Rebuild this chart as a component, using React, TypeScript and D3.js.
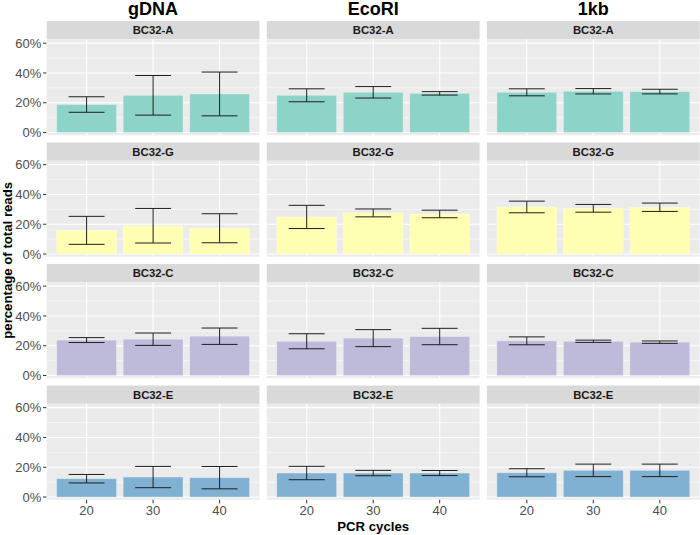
import * as d3 from "d3";

const cycles = ["20", "30", "40"];
const methods = ["gDNA", "EcoRI", "1kb"];
const barcodes = ["BC32-A", "BC32-G", "BC32-C", "BC32-E"];
const fills = ["#8DD3C7", "#FFFFB3", "#BEBADA", "#80B1D3"];
const yTicks = [0, 0.2, 0.4, 0.6];
const yMinor = [0.1, 0.3, 0.5];

// mean % of reads per method (rows) x cycle (cols)
const meanA = [[18.8, 25.0, 25.9], [25.0, 27.0, 26.3], [27.0, 27.7, 27.5]];
const errA = [[5.2, 13.3, 14.7], [4.35, 3.85, 1.15], [2.35, 1.8, 1.55]];
const meanG = [[15.9, 19.0, 17.3], [24.9, 27.6, 26.9], [31.6, 30.7, 31.4]];
const errG = [[9.4, 11.6, 9.75], [7.8, 2.65, 2.55], [3.9, 2.6, 2.8]];
const meanC = [[23.8, 24.4, 26.4], [23.0, 25.1, 26.2], [23.3, 23.0, 22.4]];
const errC = [[1.65, 4.15, 5.5], [5.05, 5.7, 5.5], [2.65, 0.75, 0.8]];
const meanE = [[12.3, 13.4, 13.0], [16.1, 16.1, 16.1], [16.3, 17.9, 17.9]];
const errE = [[2.85, 7.15, 7.5], [4.5, 1.8, 1.7], [2.7, 4.2, 4.2]];

const means = [meanA, meanG, meanC, meanE];
const errs = [errA, errG, errC, errE];

const W = 700;
const H = 535;
const left = 46.7;
const panelW = 212.8;
const gap = 7.3;
const top0 = 21;
const stripH = 18.3;
const panelH = 95.9;
const rowPitch = 121.5;
const font = "'Liberation Sans', Arial, sans-serif";

export default function App() {
  const x = d3
    .scalePoint<string>()
    .domain(cycles)
    .range([0, panelW])
    .padding(0.6);
  const unit = x.step();
  const y = d3.scaleLinear().domain([-0.018, 0.626]).range([panelH, 0]);
  const pct = d3.format(".0%");

  return (
    <div style={{ position: "absolute", left: 0, top: 0 }}>
      <svg width={W} height={H} style={{ fontFamily: font, display: "block" }}>
        <rect width={W} height={H} fill="white" />
        {methods.map((m, ci) => (
          <text
            key={m}
            x={left + ci * (panelW + gap) + panelW / 2}
            y={15}
            textAnchor="middle"
            fontWeight="bold"
            fontSize={18}
            fill="black"
          >
            {m}
          </text>
        ))}
        {barcodes.map((bc, ri) => {
          const sy = top0 + ri * rowPitch;
          const py = sy + stripH;
          return (
            <g key={bc}>
              {/* y axis */}
              <g transform={`translate(${left},${py})`}>
                {yTicks.map((t) => (
                  <g key={t} transform={`translate(0,${y(t)})`}>
                    <line x1={-3.7} x2={0} stroke="#333333" strokeWidth={1} />
                    <text
                      x={-5.5}
                      dy="0.35em"
                      textAnchor="end"
                      fontSize={13}
                      fill="#4D4D4D"
                    >
                      {pct(t)}
                    </text>
                  </g>
                ))}
              </g>
              {methods.map((m, ci) => {
                const px = left + ci * (panelW + gap);
                return (
                  <g key={m} transform={`translate(${px},0)`}>
                    <rect x={0} y={sy} width={panelW} height={stripH} fill="#D9D9D9" />
                    <text
                      x={panelW / 2}
                      y={sy + stripH / 2}
                      dy="0.36em"
                      textAnchor="middle"
                      fontWeight="bold"
                      fontSize={11.3}
                      fill="#1A1A1A"
                    >
                      {bc}
                    </text>
                    <g transform={`translate(0,${py})`}>
                      <rect width={panelW} height={panelH} fill="#EBEBEB" />
                      {yMinor.map((t) => (
                        <line
                          key={t}
                          x1={0}
                          x2={panelW}
                          y1={y(t)}
                          y2={y(t)}
                          stroke="white"
                          strokeWidth={0.55}
                        />
                      ))}
                      {yTicks.map((t) => (
                        <line
                          key={t}
                          x1={0}
                          x2={panelW}
                          y1={y(t)}
                          y2={y(t)}
                          stroke="white"
                          strokeWidth={1.1}
                        />
                      ))}
                      {cycles.map((c) => (
                        <line
                          key={c}
                          x1={x(c)}
                          x2={x(c)}
                          y1={0}
                          y2={panelH}
                          stroke="white"
                          strokeWidth={1.1}
                        />
                      ))}
                      {cycles.map((c, k) => {
                        const v = means[ri][ci][k] / 100;
                        const e = errs[ri][ci][k] / 100;
                        const cx = x(c) as number;
                        const bw = unit * 0.9;
                        const ew = unit * 0.54;
                        return (
                          <g key={c}>
                            <rect
                              x={cx - bw / 2}
                              y={y(v)}
                              width={bw}
                              height={y(0) - y(v)}
                              fill={fills[ri]}
                              stroke="white"
                              strokeOpacity={0.35}
                              strokeWidth={0.8}
                            />
                            <g stroke="#1E1E1E" strokeWidth={1} fill="none">
                              <line x1={cx} x2={cx} y1={y(v + e)} y2={y(v - e)} />
                              <line x1={cx - ew / 2} x2={cx + ew / 2} y1={y(v + e)} y2={y(v + e)} />
                              <line x1={cx - ew / 2} x2={cx + ew / 2} y1={y(v - e)} y2={y(v - e)} />
                            </g>
                          </g>
                        );
                      })}
                    </g>
                    {ri === barcodes.length - 1 && (
                      <g transform={`translate(0,${py + panelH})`}>
                        {cycles.map((c) => (
                          <g key={c} transform={`translate(${x(c)},0)`}>
                            <line y1={0} y2={3.7} stroke="#333333" strokeWidth={1} />
                            <text y={15.8} textAnchor="middle" fontSize={13} fill="#4D4D4D">
                              {c}
                            </text>
                          </g>
                        ))}
                      </g>
                    )}
                  </g>
                );
              })}
            </g>
          );
        })}
        <text
          x={left + panelW + gap + panelW / 2}
          y={530.5}
          textAnchor="middle"
          fontWeight="bold"
          fontSize={13.2}
          fill="black"
        >
          PCR cycles
        </text>
        <text
          transform={`translate(11.5,${top0 + (3 * rowPitch + stripH + panelH) / 2}) rotate(-90)`}
          textAnchor="middle"
          fontWeight="bold"
          fontSize={13.2}
          fill="black"
        >
          percentage of total reads
        </text>
      </svg>
    </div>
  );
}
